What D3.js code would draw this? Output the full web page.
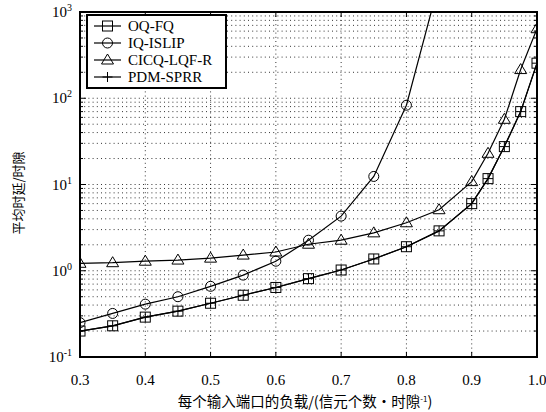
<!DOCTYPE html>
<html>
<head>
<meta charset="utf-8">
<script src="https://cdn.jsdelivr.net/npm/d3@7"></script>
<style>
body { margin: 0; background: #fff; }
text { font-family: "Liberation Serif", "DejaVu Serif", serif; }
.cjk { font-family: "Noto Sans CJK SC", sans-serif; }
</style>
</head>
<body>
<script>
var width = 546, height = 412;
var margin = {left: 80, right: 9, top: 12, bottom: 55};

// loads along the x axis
var loads = [0.3, 0.35, 0.4, 0.45, 0.5, 0.55, 0.6, 0.65, 0.7, 0.75, 0.8, 0.85, 0.9, 0.925, 0.95, 0.975, 1.0];
var oqfq = [0.20, 0.23, 0.29, 0.34, 0.42, 0.52, 0.64, 0.81, 1.02, 1.37, 1.9, 2.9, 6.0, 11.7, 27.5, 70, 255];
var pdmsprr = [0.20, 0.23, 0.29, 0.34, 0.42, 0.52, 0.64, 0.81, 1.02, 1.37, 1.9, 2.9, 6.0, 11.7, 27.5, 70, 255];
var cicq = [1.22, 1.24, 1.29, 1.33, 1.4, 1.52, 1.65, 2.03, 2.26, 2.75, 3.6, 5.1, 10.8, 23, 57, 215, 640];
// IQ-ISLIP goes off the chart after 0.8
var islipLoads = [0.3, 0.35, 0.4, 0.45, 0.5, 0.55, 0.6, 0.65, 0.7, 0.75, 0.8, 0.85];
var islip = [0.25, 0.32, 0.41, 0.50, 0.66, 0.89, 1.29, 2.26, 4.3, 12.4, 83, 2200];

var xTicks = [0.3, 0.4, 0.5, 0.6, 0.7, 0.8, 0.9, 1.0];
var yTicks = [-1, 0, 1, 2, 3];
var seriesNames = ["OQ-FQ", "IQ-ISLIP", "CICQ-LQF-R", "PDM-SPRR"];

var svg = d3.select("body").append("svg")
    .attr("width", width)
    .attr("height", height);

var x = d3.scaleLinear().domain([0.3, 1.0]).range([margin.left, width - margin.right]);
var y = d3.scaleLog().domain([0.1, 1000]).range([height - margin.bottom, margin.top]);

var x0 = margin.left, x1 = width - margin.right;
var y0 = height - margin.bottom, y1 = margin.top;

// minor log values
var minorVals = [];
for (var e = -1; e < 3; e++) {
    for (var m = 2; m <= 9; m++) minorVals.push(m * Math.pow(10, e));
}

var grid = svg.append("g")
    .attr("stroke", "#000")
    .attr("stroke-width", 0.8)
    .attr("stroke-dasharray", "1,3.2");
grid.selectAll(".hg")
    .data(minorVals.concat([1, 10, 100]))
    .enter().append("line")
    .attr("x1", x0).attr("x2", x1)
    .attr("y1", d => y(d)).attr("y2", d => y(d));
grid.selectAll(".vg")
    .data(xTicks.slice(1, -1))
    .enter().append("line")
    .attr("x1", d => x(d)).attr("x2", d => x(d))
    .attr("y1", y0).attr("y2", y1);

// frame and ticks
svg.append("rect")
    .attr("x", x0).attr("y", y1)
    .attr("width", x1 - x0).attr("height", y0 - y1)
    .attr("fill", "none").attr("stroke", "#000").attr("stroke-width", 2);

var ticks = svg.append("g").attr("stroke", "#000").attr("stroke-width", 1);
xTicks.forEach(function (t) {
    ticks.append("line").attr("x1", x(t)).attr("x2", x(t)).attr("y1", y0).attr("y2", y0 - 5);
    ticks.append("line").attr("x1", x(t)).attr("x2", x(t)).attr("y1", y1).attr("y2", y1 + 5);
});
yTicks.forEach(function (t) {
    var v = Math.pow(10, t);
    ticks.append("line").attr("x1", x0).attr("x2", x0 + 6).attr("y1", y(v)).attr("y2", y(v));
    ticks.append("line").attr("x1", x1).attr("x2", x1 - 6).attr("y1", y(v)).attr("y2", y(v));
});
minorVals.forEach(function (v) {
    ticks.append("line").attr("x1", x0).attr("x2", x0 + 3).attr("y1", y(v)).attr("y2", y(v));
    ticks.append("line").attr("x1", x1).attr("x2", x1 - 3).attr("y1", y(v)).attr("y2", y(v));
});

// tick labels
svg.selectAll(".xl")
    .data(xTicks)
    .enter().append("text")
    .attr("x", d => x(d))
    .attr("y", y0 + 28)
    .attr("text-anchor", "middle")
    .attr("font-size", 15)
    .text(d => d.toFixed(1));

var yl = svg.selectAll(".yl")
    .data(yTicks)
    .enter().append("text")
    .attr("x", x0 - 8)
    .attr("y", d => y(Math.pow(10, d)) + 5)
    .attr("text-anchor", "end")
    .attr("font-size", 15);
yl.append("tspan").text("10");
yl.append("tspan").attr("dy", -6).attr("font-size", 10).text(d => d);

// axis titles
svg.append("text")
    .attr("class", "cjk")
    .attr("x", 305)
    .attr("y", 407)
    .attr("text-anchor", "middle")
    .attr("font-size", 14.5)
    .html("每个输入端口的负载/(信元个数·时隙<tspan dy='-5' font-size='8'>-1</tspan><tspan dy='5'>)</tspan>");

svg.append("text")
    .attr("class", "cjk")
    .attr("transform", "translate(23,193) rotate(-90)")
    .attr("text-anchor", "middle")
    .attr("font-size", 13)
    .text("平均时延/时隙");

// lines
var plot = svg.append("g");
plot.append("clipPath").attr("id", "clip")
    .append("rect").attr("x", x0).attr("y", y1).attr("width", x1 - x0).attr("height", y0 - y1);

var line = d3.line().x(d => x(d[0])).y(d => y(d[1]));
var series = [
    {name: "OQ-FQ", xs: loads, ys: oqfq, mark: "square"},
    {name: "IQ-ISLIP", xs: islipLoads, ys: islip, mark: "circle"},
    {name: "CICQ-LQF-R", xs: loads, ys: cicq, mark: "triangle"},
    {name: "PDM-SPRR", xs: loads, ys: pdmsprr, mark: "plus"}
];

function drawMark(g, kind, cx, cy) {
    if (kind == "square") {
        g.append("rect").attr("x", cx - 5).attr("y", cy - 5).attr("width", 10).attr("height", 10)
            .attr("fill", "none").attr("stroke", "#000").attr("stroke-width", 1);
    } else if (kind == "circle") {
        g.append("circle").attr("cx", cx).attr("cy", cy).attr("r", 5)
            .attr("fill", "none").attr("stroke", "#000").attr("stroke-width", 1);
    } else if (kind == "triangle") {
        g.append("path").attr("d", "M" + cx + "," + (cy - 6) + "L" + (cx + 6) + "," + (cy + 4) + "L" + (cx - 6) + "," + (cy + 4) + "Z")
            .attr("fill", "none").attr("stroke", "#000").attr("stroke-width", 1);
    } else {
        g.append("path").attr("d", "M" + (cx - 5) + "," + cy + "H" + (cx + 5) + "M" + cx + "," + (cy - 5) + "V" + (cy + 5))
            .attr("fill", "none").attr("stroke", "#000").attr("stroke-width", 1);
    }
}

series.forEach(function (s) {
    var pts = s.xs.map((v, i) => [v, s.ys[i]]);
    var g = plot.append("g").attr("clip-path", "url(#clip)");
    g.append("path")
        .attr("d", line(pts))
        .attr("fill", "none")
        .attr("stroke", "#000")
        .attr("stroke-width", 1.2);
    pts.forEach(function (p) {
        if (p[1] <= 1000) drawMark(g, s.mark, x(p[0]), y(p[1]));
    });
});

// legend
var lg = svg.append("g");
lg.append("rect")
    .attr("x", 87).attr("y", 15).attr("width", 139).attr("height", 73)
    .attr("fill", "#fff").attr("stroke", "#000").attr("stroke-width", 2);
series.forEach(function (s, i) {
    var ly = 26 + i * 17;
    lg.append("line").attr("x1", 94).attr("x2", 121).attr("y1", ly).attr("y2", ly)
        .attr("stroke", "#000").attr("stroke-width", 1.2);
    drawMark(lg, s.mark, 107.5, ly);
    lg.append("text")
        .attr("x", 128).attr("y", ly + 5)
        .attr("font-size", 15)
        .text(s.name);
});
</script>
</body>
</html>
